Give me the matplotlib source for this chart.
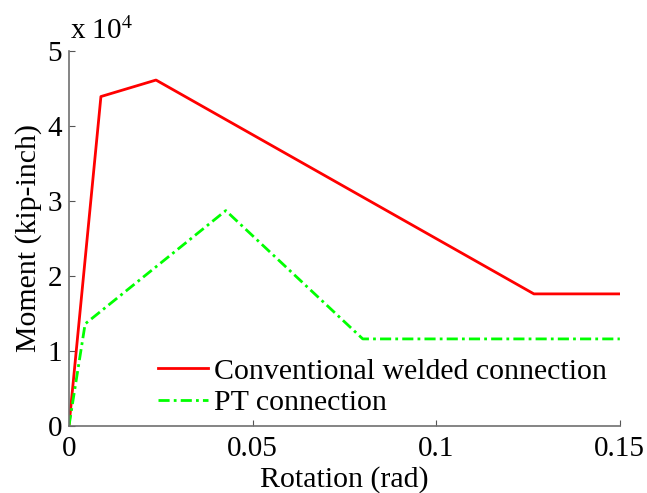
import matplotlib.pyplot as plt

plt.rcParams["font.family"] = ["Liberation Serif", "DejaVu Serif"]
plt.rcParams["mathtext.fontset"] = "stix"

welded_rot = [0.0, 0.0087, 0.0237, 0.1266, 0.15]
welded_moment = [0.0, 4.39e4, 4.61e4, 1.76e4, 1.76e4]

pt_rot = [0.0, 0.0044, 0.0427, 0.080, 0.15]
pt_moment = [0.0, 1.36e4, 2.87e4, 1.16e4, 1.16e4]

fig = plt.figure(figsize=(6.47, 4.93), dpi=100)
ax = fig.add_axes([0.1066, 0.136, 0.8514, 0.761])

ax.plot(welded_rot, [m / 1e4 for m in welded_moment], color="red", lw=2,
        label="Conventional welded connection")
ax.plot(pt_rot, [m / 1e4 for m in pt_moment], color="#00ff00", lw=2,
        linestyle=(0, (4, 1.5, 1, 1.5)), label="PT connection")

ax.set_xlim(0, 0.15)
ax.set_ylim(0, 5)
ax.set_xticks([0, 0.05, 0.1, 0.15])
ax.set_xticklabels(["0", "0.05", "0.1", "0.15"])
ax.set_yticks([0, 1, 2, 3, 4, 5])
ax.tick_params(direction="in", length=4, labelsize=21, color="#555555")
ax.tick_params(axis="x", pad=7)
ax.tick_params(axis="y", pad=5)
for side in ["top", "right"]:
    ax.spines[side].set_visible(False)
for side in ["left", "bottom"]:
    ax.spines[side].set_color("#707070")
    ax.spines[side].set_linewidth(1.2)

ax.set_xlabel("Rotation (rad)", fontsize=21.5, labelpad=3.5)
ax.set_ylabel("Moment (kip-inch)", fontsize=21.5, labelpad=4)
ax.text(0.002, 1.015, r"x 10$^{4}$", transform=ax.transAxes, fontsize=21,
        ha="left", va="bottom")

ax.legend(loc="lower right", frameon=False, fontsize=21.5, handlelength=1.65,
          handletextpad=0.2, borderpad=0, borderaxespad=0, labelspacing=0.15,
          bbox_to_anchor=(0.976, 0.026))

fig.savefig("out.png", dpi=100)
